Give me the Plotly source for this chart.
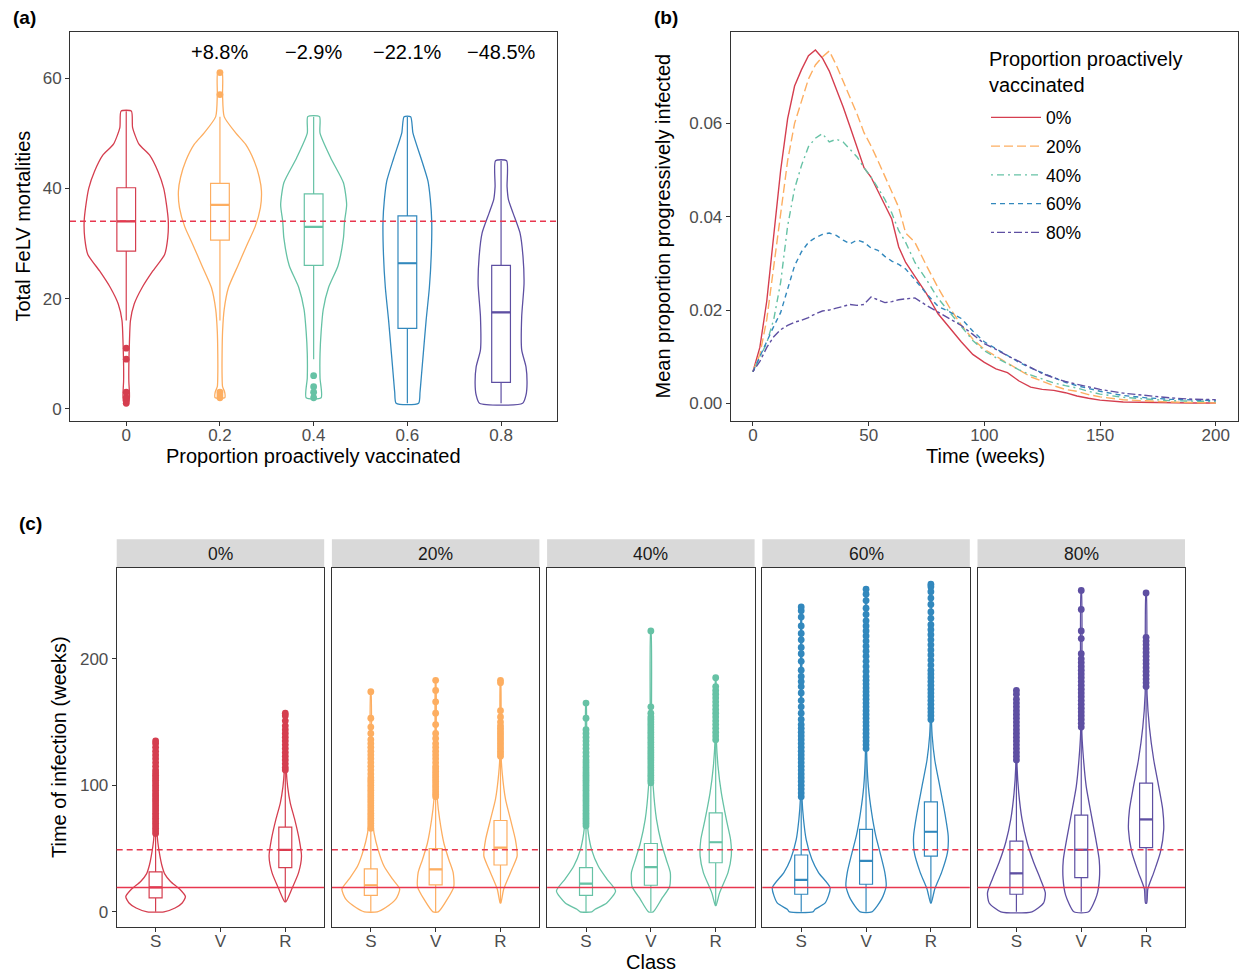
import plotly.graph_objects as go

W, H = 1239, 975
FONT = "Liberation Sans, Arial, sans-serif"


def px(x):
    return x / W


def py(y):
    return 1 - y / H


COLORS = ["#D53E4F", "#FDAE61", "#66C2A5", "#3288BD", "#5E4FA2"]
REF_RED = "#E8374F"
AXIS_COL = "#333333"
TICK_COL = "#4D4D4D"

# ---------------- panel (a) data ----------------
a_categories = ["0", "0.2", "0.4", "0.6", "0.8"]
a_change_labels = ["", "+8.8%", "−2.9%", "−22.1%", "−48.5%"]
a_label_y = 64.8
a_ref_median = 34

a_q1 = [28.6, 30.6, 26.0, 14.6, 4.8]
a_median = [34.0, 37.0, 33.0, 26.4, 17.5]
a_q3 = [40.1, 40.9, 39.0, 35.0, 26.0]
a_lower = [16, 16, 9, 1, 1]
a_upper = [54, 53, 53, 53, 45]
a_outliers = [[1, 1.5, 2, 3, 9, 11], [2, 2.5, 3, 57, 61], [2, 3, 4, 6], [], []]

a_violin_vals = [
    [1, 2, 3, 5, 8, 12, 16, 19, 22, 25, 28, 31, 34, 37, 40, 43, 46, 48, 51, 54],
    [2, 3, 4, 6, 10, 14, 18, 22, 26, 30, 33, 36.5, 39.5, 42, 45, 48, 50, 53, 57, 61],
    [2, 5.6, 10, 14, 18, 22, 26, 31, 34, 37, 41, 45.5, 50, 53],
    [1, 3, 6, 10, 16, 22, 28, 34, 38, 41.3, 45.5, 50, 53],
    [1, 2.5, 4.6, 7.6, 10.7, 16.7, 22.7, 27.6, 31.9, 35.5, 38, 40.3, 45],
]
a_violin_width = [
    [0.023, 0.034, 0.034, 0.028, 0.028, 0.034, 0.045, 0.085, 0.17, 0.284, 0.41,
     0.443, 0.449, 0.43, 0.40, 0.34, 0.25, 0.136, 0.068, 0.055],
    [0.051, 0.051, 0.028, 0.023, 0.023, 0.028, 0.045, 0.091, 0.193, 0.295, 0.375,
     0.432, 0.443, 0.42, 0.364, 0.273, 0.17, 0.045, 0.028, 0.023],
    [0.08, 0.068, 0.068, 0.08, 0.102, 0.159, 0.261, 0.318, 0.33, 0.352, 0.318,
     0.182, 0.068, 0.0625],
    [0.12, 0.135, 0.15, 0.17, 0.2, 0.235, 0.255, 0.26, 0.245, 0.22, 0.145, 0.06, 0.035],
    [0.23, 0.266, 0.277, 0.266, 0.22, 0.22, 0.245, 0.234, 0.202, 0.128, 0.078,
     0.064, 0.059],
]

# ---------------- panel (b) data ----------------
b_series = ["0%", "20%", "40%", "60%", "80%"]
b_legend_title = "Proportion proactively<br>vaccinated"
b_time = [0, 3, 6, 9, 12, 15, 18, 21, 24, 27, 30, 33, 36, 39, 42, 45, 48, 51, 54,
          57, 60, 63, 66, 70, 75, 80, 85, 90, 95, 100, 105, 110, 115, 120, 125,
          130, 135, 140, 145, 150, 160, 170, 180, 190, 200]
b_p0 = [0.0068, 0.012, 0.022, 0.036, 0.050, 0.061, 0.068, 0.0715, 0.0745, 0.0757,
        0.0740, 0.0712, 0.0675, 0.0635, 0.0592, 0.0548, 0.0505, 0.0485, 0.0455,
        0.0425, 0.0395, 0.0335, 0.0302, 0.0272, 0.0235, 0.0192, 0.0162, 0.0132,
        0.0105, 0.0088, 0.0074, 0.0066, 0.0048, 0.0035, 0.0030, 0.0028, 0.0023,
        0.0016, 0.0011, 0.0007, 0.0003, 0.0002, 0.0001, 0.0001, 0.0001]
b_p20 = [0.0068, 0.0105, 0.018, 0.029, 0.040, 0.052, 0.060, 0.065, 0.0695, 0.0725,
         0.0742, 0.0755, 0.0725, 0.069, 0.0655, 0.0620, 0.0580, 0.0552, 0.052,
         0.0487, 0.0455, 0.0420, 0.0365, 0.0345, 0.0295, 0.0248, 0.0205, 0.0168,
         0.0138, 0.0116, 0.0101, 0.0087, 0.0072, 0.0057, 0.0047, 0.0038, 0.0030,
         0.0026, 0.0019, 0.0014, 0.0008, 0.0005, 0.0003, 0.0002, 0.0001]
b_p40 = [0.0068, 0.0100, 0.0130, 0.0180, 0.0260, 0.0380, 0.0460, 0.0510, 0.0550,
         0.0568, 0.0578, 0.0560, 0.0566, 0.0560, 0.0545, 0.0528, 0.0505, 0.0485,
         0.0462, 0.0437, 0.0408, 0.0370, 0.0345, 0.0302, 0.0265, 0.0225, 0.0195,
         0.0165, 0.0135, 0.0113, 0.0098, 0.0085, 0.0072, 0.0061, 0.0052, 0.0044,
         0.0038, 0.0033, 0.0026, 0.0020, 0.0013, 0.0009, 0.0006, 0.0005, 0.0004]
b_p60 = [0.0068, 0.0100, 0.0135, 0.0165, 0.0195, 0.0245, 0.0295, 0.0325, 0.0345,
         0.0355, 0.0362, 0.0365, 0.0360, 0.0350, 0.0342, 0.0350, 0.0345, 0.0333,
         0.0328, 0.0315, 0.0305, 0.0298, 0.0288, 0.0265, 0.0235, 0.0208, 0.0196,
         0.0182, 0.0155, 0.0132, 0.0117, 0.0102, 0.0088, 0.0076, 0.0066, 0.0055,
         0.0045, 0.0038, 0.0032, 0.0026, 0.0017, 0.0012, 0.0009, 0.0007, 0.0006]
b_p80 = [0.0068, 0.0090, 0.0120, 0.0143, 0.0158, 0.0167, 0.0174, 0.0178, 0.0184,
         0.0192, 0.0198, 0.0200, 0.0204, 0.0208, 0.0212, 0.0210, 0.0212, 0.0228,
         0.0222, 0.0216, 0.0218, 0.0222, 0.0224, 0.0226, 0.0210, 0.0196, 0.0182,
         0.0167, 0.0148, 0.0128, 0.0116, 0.0102, 0.0090, 0.0077, 0.0064, 0.0055,
         0.0047, 0.0041, 0.0036, 0.0030, 0.0022, 0.0017, 0.0012, 0.0009, 0.0008]
b_values = [b_p0, b_p20, b_p40, b_p60, b_p80]
b_dashes = ["solid", "9px,4px", "2px,4px,7px,4px", "5px,4px", "3px,3px,8px,3px"]

# ---------------- panel (c) data ----------------
c_facets = ["0%", "20%", "40%", "60%", "80%"]
c_classes = ["S", "V", "R"]
c_ref_solid = 19.3
c_ref_dashed = 49.0

c_group_facet = [0, 0, 1, 1, 1, 2, 2, 2, 3, 3, 3, 4, 4, 4]
c_group_class = ["S", "R", "S", "V", "R", "S", "V", "R", "S", "V", "R", "S", "V", "R"]
c_q1 = [11, 35, 13, 21.3, 37, 13, 21, 38.8, 13.9, 21.8, 44.1, 13.9, 27, 50.7]
c_median = [19.3, 49, 21, 33.6, 50.7, 22.3, 35.4, 55, 25.2, 40.2, 63.3, 30.4, 49.1, 73]
c_q3 = [31.5, 67, 34, 50, 72.2, 35, 54, 78.2, 44.9, 65.1, 86.9, 55.9, 76.4, 101.8]
c_lower = [0, 8, 0, 0, 7, 0, 0, 5, 0, 0, 7, 0, 0, 7]
c_upper = [61, 111, 65, 90, 122, 67, 101, 135, 90, 128, 151, 118, 145, 177]

c_violin_vals = [
    [0, 3, 7, 12, 18, 24, 30, 37, 44, 57, 72, 100, 135],
    [8, 18, 31, 44, 57, 73, 86, 99, 112, 130, 157],
    [0, 3.4, 10, 18, 26, 36, 49, 62, 73, 100, 174],
    [0, 10, 20, 31, 41, 54, 73, 89, 120, 183],
    [7, 18, 34, 44, 57, 73, 89, 110, 125, 183],
    [0, 2, 7, 16.5, 26, 36, 49, 62, 73, 100, 165],
    [0, 10, 20, 31, 41, 54, 73, 99, 130, 222],
    [5, 15, 31, 44, 57, 73, 94, 115, 136, 185],
    [0, 2, 7, 19, 31, 41.5, 57, 73, 89, 120, 240],
    [0, 10, 20, 31, 47, 60, 78, 99, 125, 254],
    [7, 18, 31, 47, 60, 78, 99, 120, 139, 160, 260],
    [0, 7, 15, 26, 39, 55, 73, 94, 115, 176],
    [0, 13, 26, 41, 57, 78, 99, 120, 141, 254],
    [7, 18, 31, 47, 65, 81, 99, 120, 146, 172, 252],
]
c_violin_width = [
    [0.13, 0.3, 0.41, 0.46, 0.37, 0.23, 0.14, 0.095, 0.067, 0.03, 0.015, 0.008, 0.003],
    [0.01, 0.1, 0.205, 0.25, 0.215, 0.145, 0.077, 0.036, 0.015, 0.008, 0.003],
    [0.1, 0.23, 0.385, 0.446, 0.333, 0.205, 0.113, 0.051, 0.026, 0.01, 0.003],
    [0.041, 0.18, 0.28, 0.27, 0.205, 0.128, 0.062, 0.026, 0.008, 0.003],
    [0.005, 0.05, 0.18, 0.256, 0.23, 0.154, 0.077, 0.026, 0.008, 0.003],
    [0.09, 0.14, 0.32, 0.456, 0.32, 0.19, 0.087, 0.036, 0.015, 0.006, 0.003],
    [0.036, 0.164, 0.29, 0.3, 0.24, 0.164, 0.087, 0.036, 0.01, 0.003],
    [0.005, 0.06, 0.19, 0.24, 0.23, 0.164, 0.087, 0.036, 0.01, 0.003],
    [0.18, 0.215, 0.37, 0.446, 0.267, 0.164, 0.077, 0.036, 0.013, 0.005, 0.002],
    [0.09, 0.24, 0.31, 0.29, 0.215, 0.15, 0.087, 0.036, 0.01, 0.003],
    [0.005, 0.06, 0.164, 0.256, 0.267, 0.215, 0.138, 0.06, 0.02, 0.005, 0.003],
    [0.24, 0.42, 0.446, 0.37, 0.267, 0.164, 0.087, 0.036, 0.01, 0.003],
    [0.113, 0.24, 0.28, 0.277, 0.226, 0.15, 0.077, 0.036, 0.01, 0.003],
    [0.01, 0.026, 0.118, 0.22, 0.272, 0.256, 0.195, 0.118, 0.051, 0.015, 0.003],
]
c_outliers = [
    [62, 64, 66, 68, 70, 72, 74, 76, 78, 80, 82, 84, 86, 88, 90, 92, 94, 96, 98,
     100, 102, 104, 106, 108, 110, 112, 115, 118, 121, 124, 127, 130, 133, 135],
    [112, 114, 117, 120, 123, 126, 129, 132, 135, 138, 141, 144, 147, 151, 155, 157],
    [66, 68, 70, 72, 74, 76, 78, 80, 82, 84, 86, 88, 90, 92, 94, 96, 98, 100, 102,
     104, 106, 109, 112, 115, 118, 121, 124, 127, 130, 133, 136, 141, 146, 153, 174],
    [91, 93, 95, 97, 99, 101, 103, 105, 107, 109, 111, 113, 115, 118, 121, 124,
     127, 130, 133, 137, 141, 148, 157, 166, 175, 183],
    [123, 125, 127, 129, 131, 133, 135, 137, 139, 141, 143, 145, 147, 150, 154,
     159, 181, 183],
    [68, 70, 72, 74, 76, 78, 80, 82, 84, 86, 88, 90, 92, 94, 96, 98, 100, 102, 104,
     106, 108, 110, 112, 114, 116, 118, 120, 123, 126, 129, 132, 135, 138, 141,
     144, 153, 165],
    [102, 104, 106, 108, 110, 112, 114, 116, 118, 120, 122, 124, 126, 128, 130,
     132, 134, 136, 138, 140, 142, 144, 146, 148, 150, 152, 154, 157, 162, 222],
    [136, 139, 142, 145, 148, 151, 154, 157, 160, 163, 166, 169, 172, 175, 178, 185],
    [91, 94, 97, 100, 103, 106, 109, 112, 115, 118, 121, 124, 127, 130, 133, 136,
     139, 142, 145, 148, 152, 157, 162, 167, 173, 178, 182, 186, 191, 198, 204,
     209, 215, 220, 226, 233, 238, 241],
    [129, 132, 135, 138, 141, 144, 147, 150, 153, 156, 159, 162, 165, 168, 171,
     174, 177, 180, 183, 186, 190, 194, 198, 202, 206, 210, 214, 218, 222, 226,
     230, 235, 240, 246, 251, 255],
    [152, 155, 158, 161, 164, 167, 170, 173, 176, 179, 182, 185, 188, 191, 195,
     199, 203, 207, 211, 215, 219, 223, 227, 232, 237, 243, 248, 253, 257, 259],
    [120, 123, 126, 129, 132, 135, 138, 141, 144, 147, 150, 153, 156, 159, 162,
     165, 168, 172, 175],
    [146, 149, 152, 155, 158, 161, 164, 167, 170, 173, 176, 179, 182, 185, 188,
     191, 194, 197, 200, 204, 216, 222, 239, 254],
    [178, 181, 184, 187, 190, 193, 196, 199, 202, 205, 208, 211, 214, 217, 252],
]

# ---------------- figure ----------------
fig = go.Figure()

BOX_W = 0.2  # box width in category units


def violin_path(center, vals, widths):
    xs = [center + w for w in widths] + [center - w for w in widths[::-1]] + [center + widths[0]]
    ys = list(vals) + list(vals[::-1]) + [vals[0]]
    return xs, ys


def add_group(pos, vals, widths, q1, med, q3, lo, hi, outl, color, xa, ya):
    vx, vy = violin_path(pos, vals, widths)
    fig.add_trace(go.Scatter(x=vx, y=vy, mode="lines",
                             line=dict(color=color, width=1.3, shape="spline", smoothing=0.6),
                             xaxis=xa, yaxis=ya, showlegend=False, hoverinfo="skip"))
    fig.add_trace(go.Box(x=[pos], q1=[q1], median=[med], q3=[q3], lowerfence=[lo],
                         upperfence=[hi], width=BOX_W, whiskerwidth=0, boxpoints=False,
                         line=dict(color=color, width=1.2), fillcolor="rgba(0,0,0,0)",
                         xaxis=xa, yaxis=ya, showlegend=False, hoverinfo="skip"))
    fig.add_trace(go.Scatter(x=[pos - BOX_W / 2, pos + BOX_W / 2], y=[med, med], mode="lines",
                             line=dict(color=color, width=2.2),
                             xaxis=xa, yaxis=ya, showlegend=False, hoverinfo="skip"))
    if outl:
        fig.add_trace(go.Scatter(x=[pos] * len(outl), y=outl, mode="markers",
                                 marker=dict(color=color, size=6.8, line=dict(width=0)),
                                 xaxis=xa, yaxis=ya, showlegend=False, hoverinfo="skip"))


# panel (a)
for i in range(len(a_categories)):
    add_group(i, a_violin_vals[i], a_violin_width[i], a_q1[i], a_median[i], a_q3[i],
              a_lower[i], a_upper[i], a_outliers[i], COLORS[i], "x", "y")

# panel (b)
for i, name in enumerate(b_series):
    fig.add_trace(go.Scatter(x=b_time, y=b_values[i], mode="lines", name=name,
                             line=dict(color=COLORS[i], width=1.4, dash=b_dashes[i]),
                             xaxis="x2", yaxis="y2", legendgroup=name, showlegend=True))

# panel (c)
for g in range(len(c_group_facet)):
    f = c_group_facet[g]
    pos = c_classes.index(c_group_class[g]) + 1
    xa = "x%d" % (3 + f)
    ya = "y%d" % (3 + f)
    add_group(pos, c_violin_vals[g], c_violin_width[g], c_q1[g], c_median[g], c_q3[g],
              c_lower[g], c_upper[g], c_outliers[g], COLORS[f], xa, ya)

axis_common = dict(showline=True, mirror=True, linecolor=AXIS_COL, linewidth=1,
                   ticks="outside", ticklen=4, tickcolor=AXIS_COL, tickwidth=1,
                   tickfont=dict(family=FONT, size=17, color=TICK_COL),
                   showgrid=False, zeroline=False, fixedrange=True)
xaxis_common = dict(axis_common, ticklabelstandoff=-5)

A_TOP, A_BOT = 32.3, 420.7
layout = dict(
    width=W, height=H, margin=dict(l=0, r=0, t=0, b=0),
    paper_bgcolor="white", plot_bgcolor="white",
    font=dict(family=FONT, color="black"),
    showlegend=True,
    legend=dict(x=px(986), y=py(99.5), xanchor="left", yanchor="top",
                bgcolor="rgba(0,0,0,0)", font=dict(family=FONT, size=17.5, color="black"),
                itemwidth=50, tracegroupgap=3),
    xaxis=dict(domain=[px(70), px(557.3)], anchor="y", range=[-0.6, 4.6],
               tickvals=list(range(len(a_categories))), ticktext=a_categories, **xaxis_common),
    yaxis=dict(domain=[py(A_BOT), py(A_TOP)], anchor="x", range=[-2.16, 68.3],
               tickvals=[0, 20, 40, 60], **axis_common),
    xaxis2=dict(domain=[px(730.7), px(1238)], anchor="y2", range=[-9.6, 209.6],
                tickvals=[0, 50, 100, 150, 200], **xaxis_common),
    yaxis2=dict(domain=[py(A_BOT), py(A_TOP)], anchor="x2", range=[-0.0037, 0.0795],
                tickvals=[0, 0.02, 0.04, 0.06], tickformat=".2f", **axis_common),
)

C_TOP, C_BOT = 567.7, 927.0
c_lefts = [116.7, 331.9, 547.1, 762.3, 977.5]
C_PW = 207.5
shapes = []
annotations = []
for f in range(5):
    xa = "xaxis%d" % (3 + f)
    ya = "yaxis%d" % (3 + f)
    layout[xa] = dict(domain=[px(c_lefts[f]), px(c_lefts[f] + C_PW)], anchor="y%d" % (3 + f),
                      range=[0.4, 3.6], tickvals=[1, 2, 3], ticktext=c_classes, **xaxis_common)
    yc = dict(axis_common)
    if f > 0:
        yc["showticklabels"] = False
        yc["ticks"] = ""
    layout[ya] = dict(domain=[py(C_BOT), py(C_TOP)], anchor="x%d" % (3 + f),
                      range=[-12, 272], tickvals=[0, 100, 200], **yc)
    # strip
    shapes.append(dict(type="rect", xref="paper", yref="paper",
                       x0=px(c_lefts[f]), x1=px(c_lefts[f] + C_PW),
                       y0=py(C_TOP - 0.5), y1=py(539.3), fillcolor="#D9D9D9",
                       line=dict(width=0), layer="below"))
    annotations.append(dict(text=c_facets[f], xref="paper", yref="paper",
                            x=px(c_lefts[f] + C_PW / 2), y=py(553.5), showarrow=False,
                            xanchor="center", yanchor="middle",
                            font=dict(family=FONT, size=17.5, color="#1A1A1A")))
    # reference lines
    shapes.append(dict(type="line", xref="x%d domain" % (3 + f), yref="y%d" % (3 + f),
                       x0=0, x1=1, y0=c_ref_solid, y1=c_ref_solid,
                       line=dict(color=REF_RED, width=1.5)))
    shapes.append(dict(type="line", xref="x%d domain" % (3 + f), yref="y%d" % (3 + f),
                       x0=0, x1=1, y0=c_ref_dashed, y1=c_ref_dashed,
                       line=dict(color=REF_RED, width=1.5, dash="6px,4px")))

shapes.append(dict(type="line", xref="x domain", yref="y", x0=0, x1=1,
                   y0=a_ref_median, y1=a_ref_median,
                   line=dict(color=REF_RED, width=1.5, dash="6px,4px")))

for i, lab in enumerate(a_change_labels):
    if lab:
        annotations.append(dict(text=lab, xref="x", yref="y", x=i, y=a_label_y,
                                showarrow=False, xanchor="center", yanchor="middle",
                                font=dict(family=FONT, size=20, color="black")))


def ann(text, x, y, size=20, bold=False, angle=0, xanchor="center", align="center"):
    return dict(text=("<b>%s</b>" % text) if bold else text, xref="paper", yref="paper",
                x=px(x), y=py(y), showarrow=False, xanchor=xanchor, yanchor="middle",
                align=align, textangle=angle, font=dict(family=FONT, size=size, color="black"))


annotations += [
    ann("(a)", 24, 18, 19, bold=True),
    ann("(b)", 666, 18, 19, bold=True),
    ann("(c)", 30, 523, 19, bold=True),
    ann("Total FeLV mortalities", 22, 226.5, 20, angle=-90),
    ann("Proportion proactively vaccinated", 313.7, 456),
    ann("Mean proportion progressively infected", 662, 226.5, 20, angle=-90),
    ann("Time (weeks)", 985.7, 456),
    ann("Time of infection (weeks)", 59, 747, 20, angle=-90),
    ann("Class", 651, 962),
    ann(b_legend_title, 987, 72, 20, xanchor="left", align="left"),
]

layout["shapes"] = shapes
layout["annotations"] = annotations
fig.update_layout(**layout)

fig.write_html("out.html", include_plotlyjs=True, config={"displayModeBar": False},
               post_script="document.body.style.margin='0';document.body.style.overflow='hidden';")
